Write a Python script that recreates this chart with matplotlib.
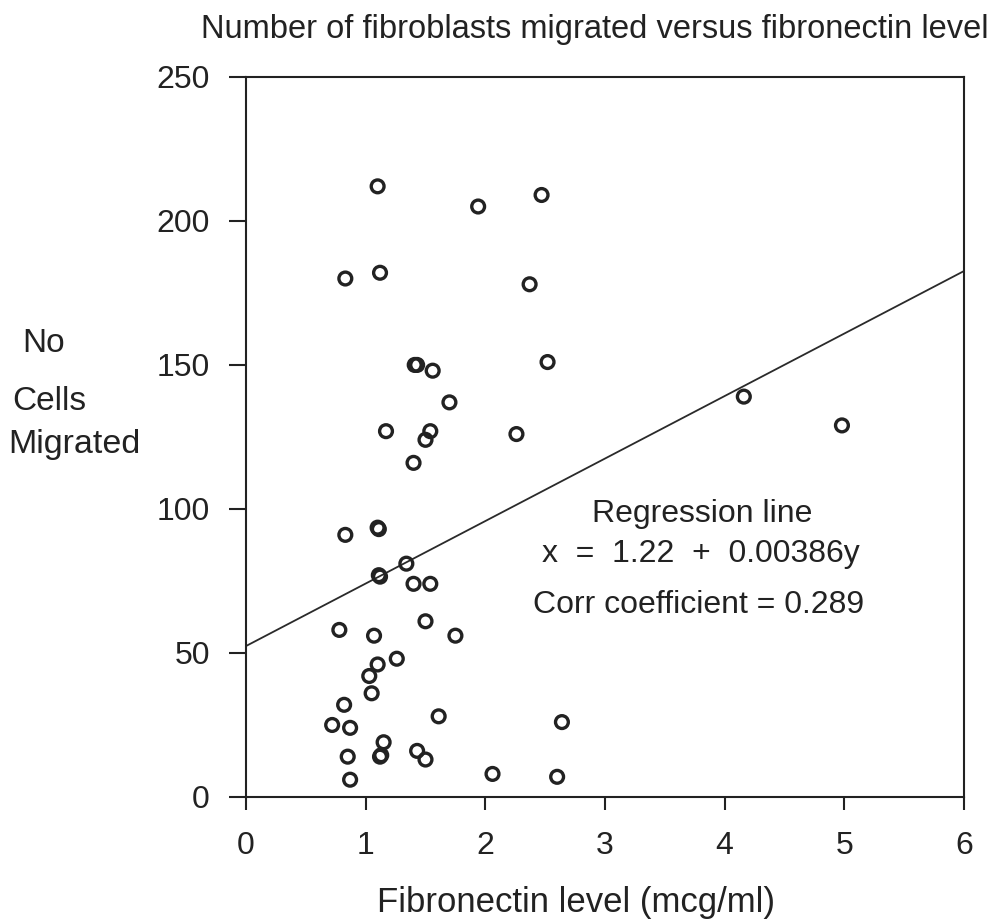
import matplotlib
matplotlib.use("Agg")
import matplotlib.pyplot as plt
import numpy as np

# Fibronectin level (mcg/ml) and number of cells migrated
fibronectin = [
    1.10, 1.94, 2.47, 0.83, 1.12, 2.37,
    1.41, 1.43, 1.56, 2.52, 1.70,
    1.17, 1.54, 1.50, 2.26, 1.40,
    0.83, 1.10, 1.11, 1.34, 1.11, 1.12, 1.40, 1.54,
    0.78, 1.07, 1.50, 1.75, 1.26, 1.10, 1.03, 1.05,
    0.82, 0.72, 0.87, 1.61, 2.64, 1.15, 0.85, 1.12, 1.13,
    1.43, 1.50, 0.87, 2.06, 2.60,
    4.16, 4.98,
]
cells_migrated = [
    212, 205, 209, 180, 182, 178,
    150, 150, 148, 151, 137,
    127, 127, 124, 126, 116,
    91, 93.5, 93, 81, 77, 76.5, 74, 74,
    58, 56, 61, 56, 48, 46, 42, 36,
    32, 25, 24, 28, 26, 19, 14, 14, 14.5,
    16, 13, 6, 8, 7,
    139, 129,
]

# regression line as drawn on the chart
line_x = [0, 6]
line_intercept = 52.4
line_slope = 21.7

X_TICKS = [0, 1, 2, 3, 4, 5, 6]
Y_TICKS = [0, 50, 100, 150, 200, 250]

FONT = "Liberation Sans"
INK = "#222222"

fig = plt.figure(figsize=(10, 9.22), dpi=100)
ax = fig.add_axes([0.246, 0.1356, 0.718, 0.781])

ax.scatter(fibronectin, cells_migrated, s=85, facecolors="none",
           edgecolors=INK, linewidths=2.4, zorder=3)

lx = np.array(line_x, dtype=float)
ax.plot(lx, line_intercept + line_slope * lx, color="#2a2a2a", linewidth=1.3, zorder=2)

ax.set_xlim(0, 6)
ax.set_ylim(0, 250)
ax.set_xticks(X_TICKS)
ax.set_yticks(Y_TICKS)
ax.tick_params(axis="x", direction="out", length=9.5, width=1.5,
               labelsize=23, pad=15, top=False, colors=INK)
ax.tick_params(axis="y", direction="out", length=12, width=1.5,
               labelsize=23, pad=14, right=False, colors=INK)
for lbl in ax.get_xticklabels() + ax.get_yticklabels():
    lbl.set_fontfamily(FONT)
for sp in ax.spines.values():
    sp.set_linewidth(1.5)
    sp.set_color(INK)

# annotation block
ann = dict(ha="center", va="baseline", fontsize=23, family=FONT, color=INK)
ax.text(3.816, 95.5, "Regression line", **ann)
ax.text(3.803, 81.6, "x  =  1.22  +  0.00386y", **ann)
ax.text(3.778, 63.9, "Corr coefficient = 0.289", **ann)

txt = dict(va="baseline", family=FONT, color=INK)
fig.text(0.595, 1 - 38 / 922, "Number of fibroblasts migrated versus fibronectin level",
         ha="center", fontsize=23.5, **txt)
fig.text(0.576, 1 - 912 / 922, "Fibronectin level (mcg/ml)", ha="center",
         fontsize=25, **txt)
fig.text(0.022, 1 - 352 / 922, "No", ha="left", fontsize=24, **txt)
fig.text(0.012, 1 - 410 / 922, "Cells", ha="left", fontsize=24, **txt)
fig.text(0.008, 1 - 453 / 922, "Migrated", ha="left", fontsize=24.5, **txt)

fig.savefig("out.png", dpi=100, facecolor="white")
